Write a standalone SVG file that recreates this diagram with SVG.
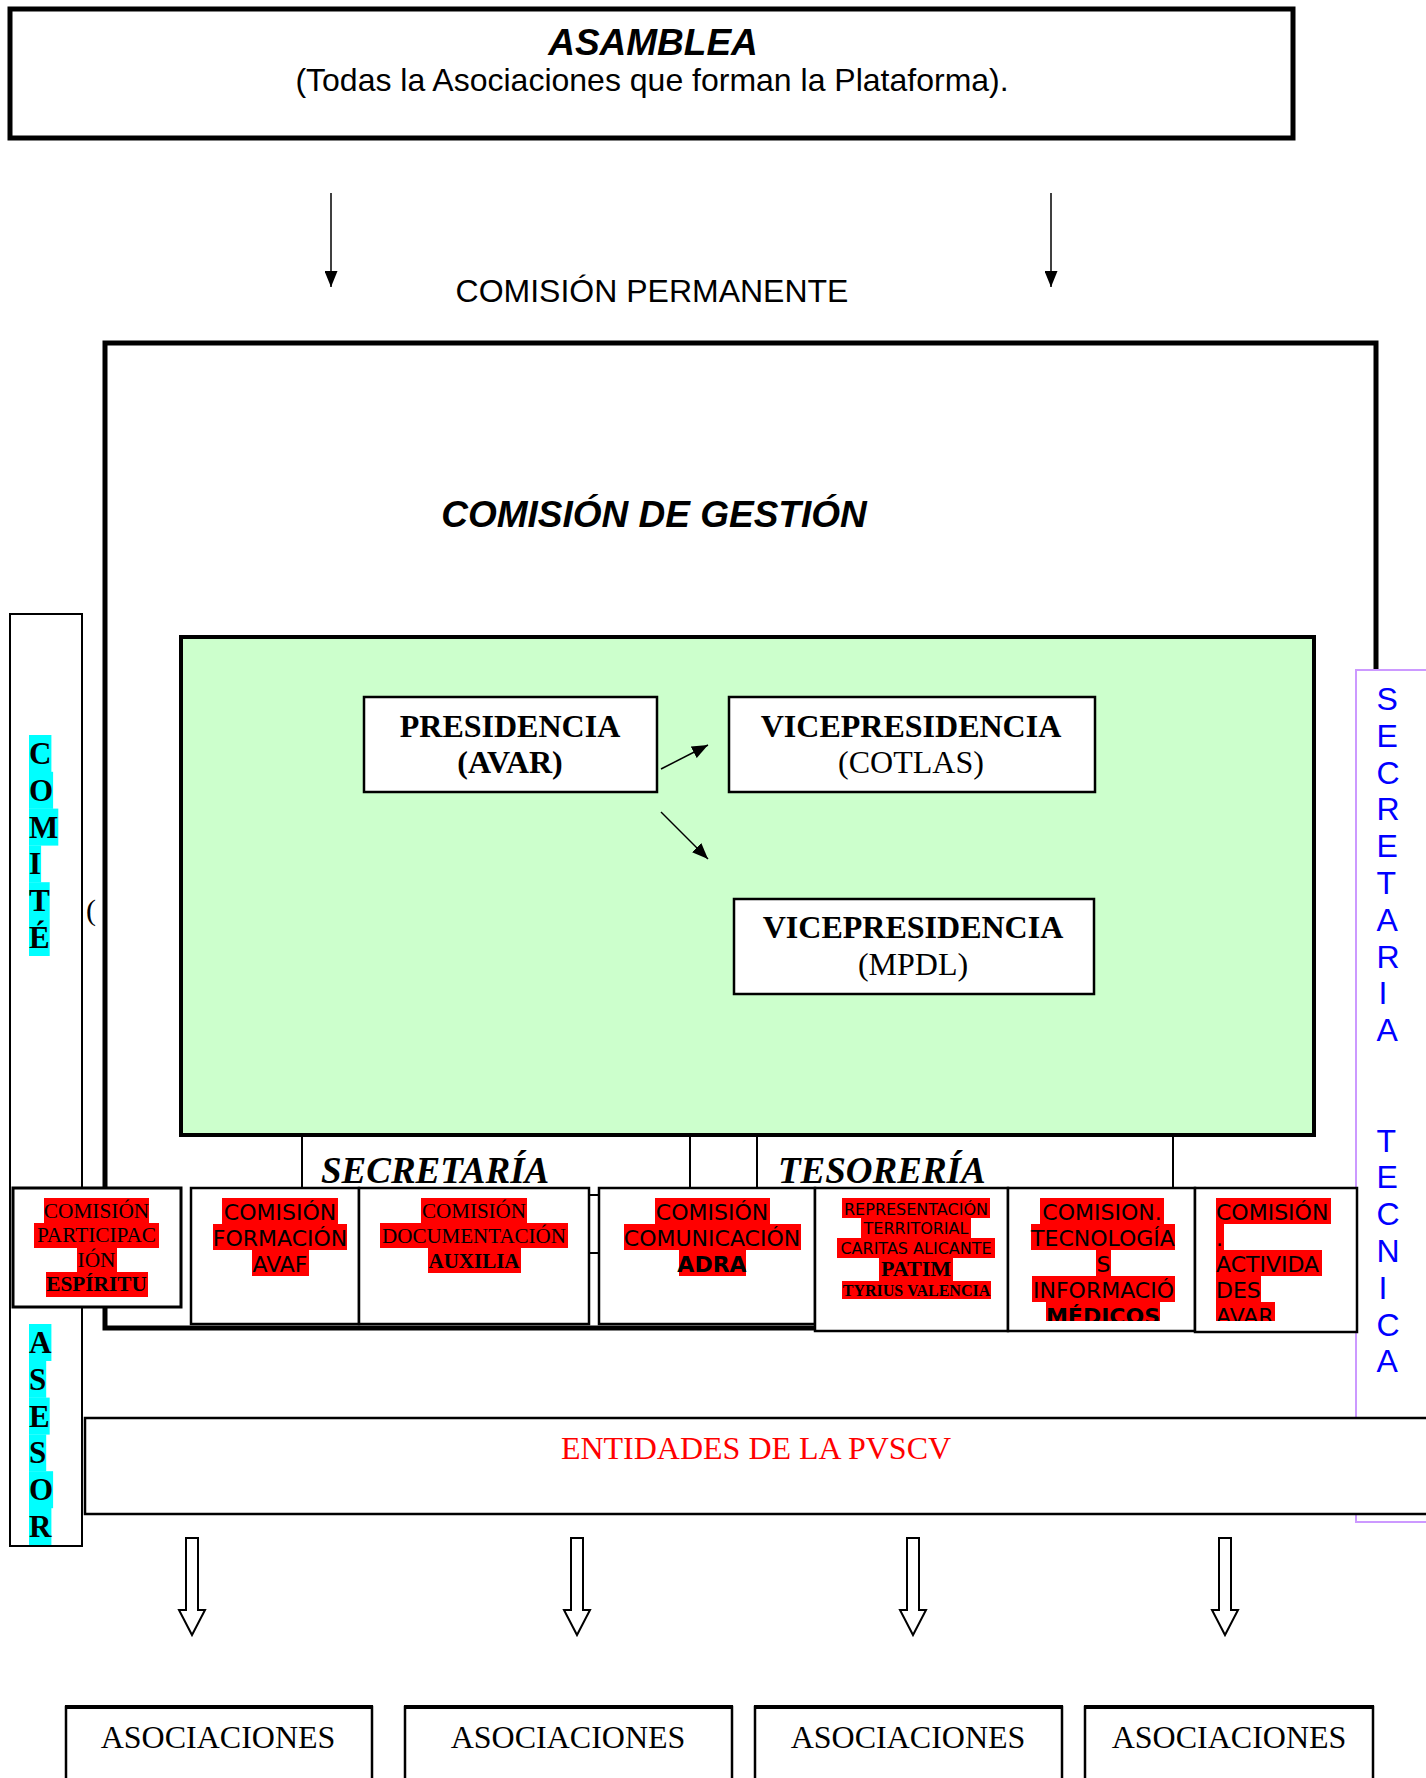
<svg xmlns="http://www.w3.org/2000/svg" width="1426" height="1778" viewBox="0 0 1426 1778">
<defs>
<style>
.sans{font-family:"Liberation Sans",Arial,sans-serif}
.serif{font-family:"Liberation Serif","Times New Roman",serif}
.dv{font-family:"DejaVu Sans",Verdana,sans-serif}
.box{fill:#fff;stroke:#000;stroke-width:2.5}
.thin{fill:none;stroke:#000;stroke-width:2}
.hl{fill:#ff0000}
.cy{fill:#00ffff}
.c{text-anchor:middle}
.b{font-weight:bold}
.i{font-style:italic}
.conn{stroke:#000;stroke-width:1.5;fill:none}
.hollow{fill:#fff;stroke:#000;stroke-width:2}
</style>
<marker id="ah" markerUnits="userSpaceOnUse" markerWidth="16" markerHeight="13" refX="16" refY="6.5" orient="auto">
<path d="M0,0 L16,6.5 L0,13 z" fill="#000"/>
</marker>
<clipPath id="clip6"><rect x="1009" y="1188" width="185" height="133"/></clipPath>
<clipPath id="clip7"><rect x="1196" y="1188" width="160" height="133"/></clipPath>
</defs>
<rect width="1426" height="1778" fill="#fff"/>

<g id="asamblea">
<rect x="10" y="9" width="1283" height="129" fill="#fff" stroke="#000" stroke-width="5"/>
<text x="653" y="55" class="sans b i c" font-size="37">ASAMBLEA</text>
<text x="652" y="91" class="sans c" font-size="32">(Todas la Asociaciones que forman la Plataforma).</text>
</g>

<g id="permanente">
<text x="652" y="302" class="sans c" font-size="32">COMISIÓN PERMANENTE</text>
</g>

<g id="gestion">
<rect x="105" y="343" width="1271" height="985" fill="#fff" stroke="#000" stroke-width="5"/>
<text x="654" y="527" class="sans b i c" font-size="37">COMISIÓN DE GESTIÓN</text>
</g>

<g id="mesa">
<rect x="181" y="637" width="1133" height="498" fill="#ccffcc" stroke="#000" stroke-width="4"/>
</g>

<g id="presidencia">
<rect class="box" x="364" y="697" width="293" height="95"/>
<text x="510" y="737" class="serif b c" font-size="32">PRESIDENCIA</text>
<text x="510" y="773" class="serif b c" font-size="32">(AVAR)</text>
</g>
<g id="vice-cotlas">
<rect class="box" x="729" y="697" width="366" height="95"/>
<text x="911" y="737" class="serif b c" font-size="32">VICEPRESIDENCIA</text>
<text x="911" y="773" class="serif c" font-size="32">(COTLAS)</text>
</g>
<g id="vice-mpdl">
<rect class="box" x="734" y="899" width="360" height="95"/>
<text x="913" y="938" class="serif b c" font-size="32">VICEPRESIDENCIA</text>
<text x="913" y="975" class="serif c" font-size="32">(MPDL)</text>
</g>

<g id="secretaria">
<rect class="thin" x="302" y="1135" width="388" height="60"/>
<text x="321" y="1183" class="serif b i" font-size="37">SECRETARÍA</text>
</g>
<g id="tesoreria">
<rect class="thin" x="757" y="1135" width="416" height="60"/>
<text x="778" y="1183" class="serif b i" font-size="37">TESORERÍA</text>
</g>

<g id="comite-asesor">
<rect x="10" y="614" width="72" height="932" fill="none" stroke="#000" stroke-width="2"/>
<rect class="cy" x="29" y="735" width="22.4" height="37"/>
<rect class="cy" x="29" y="771.8" width="24.1" height="37"/>
<rect class="cy" x="29" y="808.6" width="29.3" height="37"/>
<rect class="cy" x="29" y="845.4" width="12.1" height="37"/>
<rect class="cy" x="29" y="882.2" width="20.7" height="37"/>
<rect class="cy" x="29" y="919" width="20.7" height="37"/>
<text class="serif b" font-size="31">
<tspan x="29" y="764">C</tspan><tspan x="29" y="800.8">O</tspan><tspan x="29" y="837.6">M</tspan><tspan x="29" y="874.4">I</tspan><tspan x="29" y="911.2">T</tspan><tspan x="29" y="948">É</tspan>
</text>
<rect class="cy" x="29" y="1324" width="22.4" height="37"/>
<rect class="cy" x="29" y="1360.8" width="17.2" height="37"/>
<rect class="cy" x="29" y="1397.6" width="20.7" height="37"/>
<rect class="cy" x="29" y="1434.4" width="17.2" height="37"/>
<rect class="cy" x="29" y="1471.2" width="24.1" height="37"/>
<rect class="cy" x="29" y="1508" width="22.4" height="37"/>
<text class="serif b" font-size="31">
<tspan x="29" y="1353">A</tspan><tspan x="29" y="1389.8">S</tspan><tspan x="29" y="1426.6">E</tspan><tspan x="29" y="1463.4">S</tspan><tspan x="29" y="1500.2">O</tspan><tspan x="29" y="1537">R</tspan>
</text>
<text x="86" y="920" class="serif" font-size="30">(</text>
</g>

<g id="secretaria-tecnica">
<rect x="1356" y="670" width="90" height="852" fill="#fff" stroke="#cc99ff" stroke-width="2"/>
<text class="sans" font-size="32" fill="#0000ff">
<tspan x="1376.5" y="710">S</tspan><tspan x="1376.5" y="746.8">E</tspan><tspan x="1376.5" y="783.6">C</tspan><tspan x="1376.5" y="820.4">R</tspan><tspan x="1376.5" y="857.2">E</tspan><tspan x="1376.5" y="894">T</tspan><tspan x="1376.5" y="930.8">A</tspan><tspan x="1376.5" y="967.6">R</tspan><tspan x="1378.5" y="1004.4">I</tspan><tspan x="1376.5" y="1041.2">A</tspan>
<tspan x="1376.5" y="1151.6">T</tspan><tspan x="1376.5" y="1188.4">E</tspan><tspan x="1376.5" y="1225.2">C</tspan><tspan x="1376.5" y="1262">N</tspan><tspan x="1378.5" y="1298.8">I</tspan><tspan x="1376.5" y="1335.6">C</tspan><tspan x="1376.5" y="1372.4">A</tspan>
</text>
</g>

<g id="com-participacion">
<rect x="13" y="1188" width="168" height="119" fill="#fff" stroke="#000" stroke-width="3"/>
<rect class="hl" x="44" y="1198" width="105" height="25"/>
<rect class="hl" x="34" y="1223" width="125" height="25"/>
<rect class="hl" x="77" y="1248" width="40" height="24"/>
<rect class="hl" x="46" y="1272" width="102" height="25"/>
<text class="serif c" font-size="21.3"><tspan x="96.5" y="1217.5">COMISIÓN</tspan><tspan x="96.5" y="1242">PARTICIPAC</tspan><tspan x="96.5" y="1266.5">IÓN</tspan><tspan x="96.5" y="1291" font-weight="bold">ESPÍRITU</tspan></text>
</g>

<g id="com-formacion">
<rect class="box" x="191" y="1188" width="168" height="136"/>
<rect class="hl" x="222" y="1198" width="116" height="26"/>
<rect class="hl" x="213" y="1224" width="134" height="26"/>
<rect class="hl" x="252" y="1250" width="57" height="26"/>
<text class="dv c" font-size="22"><tspan x="280" y="1220">COMISIÓN</tspan><tspan x="280" y="1246">FORMACIÓN</tspan><tspan x="280" y="1272">AVAF</tspan></text>
</g>

<g id="com-documentacion">
<rect class="box" x="359" y="1188" width="230" height="136"/>
<rect class="hl" x="421" y="1198" width="106" height="25"/>
<rect class="hl" x="380" y="1223" width="188" height="25"/>
<rect class="hl" x="428" y="1248" width="93" height="25"/>
<text class="serif c" font-size="21"><tspan x="474" y="1217.5">COMISIÓN</tspan><tspan x="474" y="1242.5">DOCUMENTACIÓN</tspan><tspan x="474" y="1267.5" font-weight="bold">AUXILIA</tspan></text>
</g>

<g id="com-comunicacion">
<rect class="box" x="599" y="1188" width="216" height="136"/>
<rect class="hl" x="655" y="1198" width="115" height="26"/>
<rect class="hl" x="624" y="1224" width="177" height="26"/>
<rect class="hl" x="679" y="1250" width="67" height="26"/>
<text class="dv c" font-size="22"><tspan x="712" y="1220">COMISIÓN</tspan><tspan x="712" y="1246">COMUNICACIÓN</tspan><tspan x="712" y="1272" font-weight="bold">ADRA</tspan></text>
</g>

<g id="com-representacion">
<rect class="box" x="815" y="1188" width="193" height="143"/>
<rect class="hl" x="842" y="1198" width="148" height="20"/>
<rect class="hl" x="861" y="1218" width="110" height="20"/>
<rect class="hl" x="837" y="1238" width="158" height="20"/>
<rect class="hl" x="879" y="1257" width="74" height="24"/>
<rect class="hl" x="842" y="1281" width="149" height="18"/>
<text class="dv c" font-size="16"><tspan x="916" y="1214.5">REPRESENTACIÓN</tspan><tspan x="916" y="1234.3">TERRITORIAL</tspan><tspan x="916" y="1254">CARITAS ALICANTE</tspan></text>
<text x="916" y="1276" class="serif b c" font-size="22">PATIM</text>
<text x="916.5" y="1295.5" class="serif b c" font-size="16">TYRIUS VALENCIA</text>
</g>

<g id="com-tecnologias">
<rect class="box" x="1008" y="1188" width="187" height="143"/>
<g clip-path="url(#clip6)">
<rect class="hl" x="1040" y="1198" width="124" height="26"/>
<rect class="hl" x="1031" y="1224" width="144" height="26"/>
<rect class="hl" x="1096" y="1250" width="15" height="26"/>
<rect class="hl" x="1032" y="1276" width="143" height="26"/>
<rect class="hl" x="1046" y="1302" width="114" height="19"/>
<text class="dv c" font-size="22"><tspan x="1102" y="1220">COMISION.</tspan><tspan x="1103" y="1246">TECNOLOGÍA</tspan><tspan x="1103.5" y="1272">S</tspan><tspan x="1103.5" y="1298">INFORMACIÓ</tspan><tspan x="1103" y="1324" font-weight="bold">MÉDICOS</tspan></text>
</g>
</g>

<g id="com-actividades">
<rect class="box" x="1195" y="1188" width="162" height="144"/>
<g clip-path="url(#clip7)">
<rect class="hl" x="1216" y="1198" width="115" height="26"/>
<rect class="hl" x="1216" y="1224" width="8" height="26"/>
<rect class="hl" x="1216" y="1250" width="106" height="26"/>
<rect class="hl" x="1216" y="1276" width="45" height="26"/>
<rect class="hl" x="1216" y="1302" width="59" height="19"/>
<text class="dv" font-size="22"><tspan x="1216" y="1220">COMISIÓN</tspan><tspan x="1216" y="1246">.</tspan><tspan x="1216" y="1272">ACTIVIDA</tspan><tspan x="1216" y="1298">DES</tspan><tspan x="1216" y="1324">AVAR</tspan></text>
</g>
</g>

<g id="entidades">
<rect x="85" y="1418" width="1360" height="96" fill="#fff" stroke="#000" stroke-width="2.5"/>
<text x="756" y="1459" class="serif c" font-size="32" fill="#ff0000">ENTIDADES DE LA PVSCV</text>
</g>

<g id="asociaciones-1">
<rect class="box" x="66" y="1707" width="306" height="90"/>
<line x1="65" y1="1707" x2="373" y2="1707" stroke="#000" stroke-width="4"/>
<text x="218" y="1748" class="serif c" font-size="32">ASOCIACIONES</text>
</g>
<g id="asociaciones-2">
<rect class="box" x="405" y="1707" width="327" height="90"/>
<line x1="404" y1="1707" x2="733" y2="1707" stroke="#000" stroke-width="4"/>
<text x="568" y="1748" class="serif c" font-size="32">ASOCIACIONES</text>
</g>
<g id="asociaciones-3">
<rect class="box" x="755" y="1707" width="307" height="90"/>
<line x1="754" y1="1707" x2="1063" y2="1707" stroke="#000" stroke-width="4"/>
<text x="908" y="1748" class="serif c" font-size="32">ASOCIACIONES</text>
</g>
<g id="asociaciones-4">
<rect class="box" x="1085" y="1707" width="288" height="90"/>
<line x1="1084" y1="1707" x2="1374" y2="1707" stroke="#000" stroke-width="4"/>
<text x="1229" y="1748" class="serif c" font-size="32">ASOCIACIONES</text>
</g>

<g id="connectors">
<line class="conn" x1="331" y1="193" x2="331" y2="287" marker-end="url(#ah)"/>
<line class="conn" x1="1051" y1="193" x2="1051" y2="287" marker-end="url(#ah)"/>
<line class="conn" x1="661" y1="769" x2="708" y2="745" marker-end="url(#ah)"/>
<line class="conn" x1="661" y1="812" x2="708" y2="859" marker-end="url(#ah)"/>
<line x1="589" y1="1253" x2="599" y2="1253" stroke="#000" stroke-width="2"/>
<path class="hollow" d="M186,1538 H198 V1610 H205 L192,1635 L179,1610 H186 Z"/>
<path class="hollow" d="M571,1538 H583 V1610 H590 L577,1635 L564,1610 H571 Z"/>
<path class="hollow" d="M907,1538 H919 V1610 H926 L913,1635 L900,1610 H907 Z"/>
<path class="hollow" d="M1219,1538 H1231 V1610 H1238 L1225,1635 L1212,1610 H1219 Z"/>
</g>
</svg>
